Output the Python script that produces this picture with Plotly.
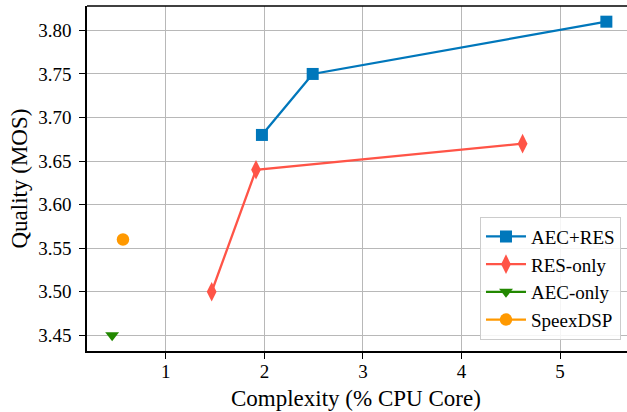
import plotly.graph_objects as go

# Data
aec_res_x = [1.975, 2.49, 5.47]
aec_res_y = [3.68, 3.75, 3.81]
res_only_x = [1.465, 1.915, 4.62]
res_only_y = [3.50, 3.64, 3.67]
aec_only_x = [0.455]
aec_only_y = [3.45]
speex_x = [0.565]
speex_y = [3.56]

x_ticks = [1, 2, 3, 4, 5]
y_ticks = [3.45, 3.50, 3.55, 3.60, 3.65, 3.70, 3.75, 3.80]
y_ticklabels = ["3.45", "3.50", "3.55", "3.60", "3.65", "3.70", "3.75", "3.80"]

FONT = "Liberation Serif, serif"

fig = go.Figure()
series = [
    ("AEC+RES", aec_res_x, aec_res_y, "#0077BB", "square", 12),
    ("RES-only", res_only_x, res_only_y, "#FF5447", "diamond-tall", 14),
    ("AEC-only", aec_only_x, aec_only_y, "#228800", "triangle-down", 12),
    ("SpeexDSP", speex_x, speex_y, "#FF9900", "circle", 12.5),
]
for name, xs, ys, col, sym, sz in series:
    fig.add_trace(go.Scatter(
        x=xs, y=ys, name=name, mode="lines+markers",
        line=dict(color=col, width=2.3),
        marker=dict(symbol=sym, size=sz, color=col, line=dict(width=0)),
    ))

axis_common = dict(
    automargin=False,
    showgrid=True, gridcolor="#b8b8b8", gridwidth=1.3,
    zeroline=False, showline=True, linecolor="black", linewidth=1.5,
    ticks="outside", ticklen=6, tickwidth=1.2, tickcolor="black",
    tickfont=dict(family=FONT, size=19, color="black"),
)

fig.update_xaxes(
    range=[0.2, 5.72], tickvals=x_ticks, ticktext=[str(v) for v in x_ticks],
    ticklabelstandoff=-4,
    **axis_common,
)
fig.update_yaxes(
    range=[3.432, 3.828], tickvals=y_ticks, ticktext=y_ticklabels,
    ticklabelstandoff=4,
    **axis_common,
)

# axis titles as annotations for exact placement
fig.add_annotation(text="Complexity (% CPU Core)", xref="paper", yref="paper",
                   x=0.4937, y=0, yshift=-47, xanchor="center", yanchor="middle",
                   showarrow=False, font=dict(family=FONT, size=23, color="black"))
fig.add_annotation(text="Quality (MOS)", xref="paper", yref="paper",
                   x=0, y=0.5, xshift=-68, xanchor="center", yanchor="middle",
                   textangle=-90, showarrow=False,
                   font=dict(family=FONT, size=23, color="black"))

# top spine (right spine falls outside the visible window, as in the reference)
fig.add_shape(type="line", xref="paper", yref="paper", x0=0, x1=1, y0=1, y1=1,
              line=dict(color="black", width=1.5))

fig.update_layout(
    width=631, height=412,
    margin=dict(l=87, r=0, t=6, b=61),
    paper_bgcolor="white", plot_bgcolor="white",
    font=dict(family=FONT, color="black"),
    showlegend=True,
    legend=dict(
        x=0.9816, y=0.033, xanchor="right", yanchor="bottom",
        bgcolor="rgba(255,255,255,0.85)", bordercolor="#cccccc", borderwidth=1,
        font=dict(family=FONT, size=19, color="black"),
        tracegroupgap=0, itemwidth=40,
    ),
)

fig.write_html(
    "out.html",
    config={"displayModeBar": False},
    post_script="document.body.style.margin='0';document.body.style.overflow='hidden';document.documentElement.style.overflow='hidden';",
)
